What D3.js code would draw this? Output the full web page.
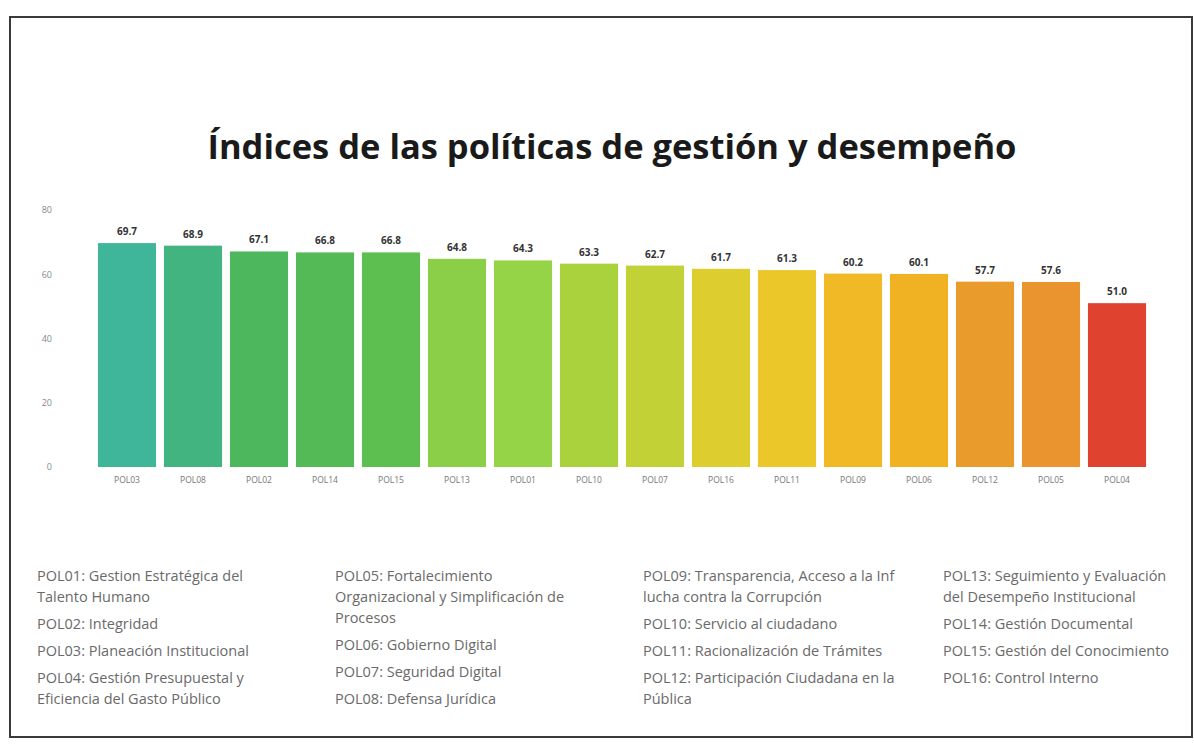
<!DOCTYPE html>
<html>
<head>
<meta charset="utf-8">
<script src="https://cdn.jsdelivr.net/npm/d3@7"></script>
<style>
  html, body { margin: 0; padding: 0; background: #ffffff; }
  svg { display: block; }
</style>
</head>
<body>
<svg id="chart" width="1194" height="755"></svg>
<script>
// ---- data ----
const categories = ["POL03","POL08","POL02","POL14","POL15","POL13","POL01","POL10","POL07","POL16","POL11","POL09","POL06","POL12","POL05","POL04"];
const values = [69.7, 68.9, 67.1, 66.8, 66.8, 64.8, 64.3, 63.3, 62.7, 61.7, 61.3, 60.2, 60.1, 57.7, 57.6, 51.0];
const valueLabels = ["69.7","68.9","67.1","66.8","66.8","64.8","64.3","63.3","62.7","61.7","61.3","60.2","60.1","57.7","57.6","51.0"];
const barColors = ["#3fb59a","#41b47f","#4cb75c","#53ba55","#5cbf50","#8bcf48","#94d446","#aad23d","#c1d136","#ddcd2e","#ebc72a","#f2b926","#f0b223","#e99b2b","#ea942f","#df432f"];
const yTicks = [0, 20, 40, 60, 80];
const titleText = "Índices de las políticas de gestión y desempeño";
const legendCol1 = [["POL01: Gestion Estratégica del","Talento Humano"],["POL02: Integridad"],["POL03: Planeación Institucional"],["POL04: Gestión Presupuestal y","Eficiencia del Gasto Público"]];
const legendCol2 = [["POL05: Fortalecimiento","Organizacional y Simplificación de","Procesos"],["POL06: Gobierno Digital"],["POL07: Seguridad Digital"],["POL08: Defensa Jurídica"]];
const legendCol3 = [["POL09: Transparencia, Acceso a la Inf","lucha contra la Corrupción"],["POL10: Servicio al ciudadano"],["POL11: Racionalización de Trámites"],["POL12: Participación Ciudadana en la","Pública"]];
const legendCol4 = [["POL13: Seguimiento y Evaluación","del Desempeño Institucional"],["POL14: Gestión Documental"],["POL15: Gestión del Conocimiento"],["POL16: Control Interno"]];

// ---- drawing ----
const svg = d3.select("#chart");
const font = "'Open Sans', 'Noto Sans', sans-serif";

svg.append("rect").attr("x", 10).attr("y", 17).attr("width", 1182).attr("height", 720)
  .attr("fill", "#ffffff").attr("stroke", "#3a3a3a").attr("stroke-width", 2);

svg.append("text").attr("x", 612).attr("y", 159).attr("text-anchor", "middle")
  .attr("font-family", font).attr("font-weight", "bold").attr("font-size", 34.5)
  .attr("fill", "#1a1a1a").text(titleText);

const x = d3.scaleBand().domain(categories).range([94, 1150]).paddingInner(0.12).paddingOuter(0.06);
const y = d3.scaleLinear().domain([0, 80]).range([467, 210]);

const yAxis = svg.append("g").attr("transform", "translate(60,0)")
  .call(d3.axisLeft(y).tickValues(yTicks).tickSize(0).tickPadding(8));
yAxis.select(".domain").remove();
yAxis.selectAll("text").attr("font-family", font).attr("font-size", 9).attr("fill", "#888");

svg.append("g").selectAll("rect").data(values).join("rect")
  .attr("x", (d, i) => x(categories[i]))
  .attr("y", d => y(d))
  .attr("width", x.bandwidth())
  .attr("height", d => y(0) - y(d))
  .attr("fill", (d, i) => barColors[i]);

svg.append("g").selectAll("text").data(values).join("text")
  .attr("x", (d, i) => x(categories[i]) + x.bandwidth() / 2)
  .attr("y", d => y(d) - 8)
  .attr("text-anchor", "middle")
  .attr("font-family", font).attr("font-weight", "bold").attr("font-size", 10)
  .attr("fill", "#333").text((d, i) => valueLabels[i]);

const xAxis = svg.append("g").attr("transform", `translate(0,${y(0)})`)
  .call(d3.axisBottom(x).tickSize(0).tickPadding(10));
xAxis.select(".domain").remove();
xAxis.selectAll("text").attr("font-family", font).attr("font-size", 8.5).attr("fill", "#777");

const cols = [legendCol1, legendCol2, legendCol3, legendCol4];
const colX = [37, 335, 643, 943];
cols.forEach((col, ci) => {
  let yy = 581;
  col.forEach(item => {
    item.forEach(line => {
      svg.append("text").attr("x", colX[ci]).attr("y", yy)
        .attr("font-family", font).attr("font-size", 14.5).attr("fill", "#6a6a6a").text(line);
      yy += 21;
    });
    yy += 6;
  });
});
</script>
</body>
</html>
